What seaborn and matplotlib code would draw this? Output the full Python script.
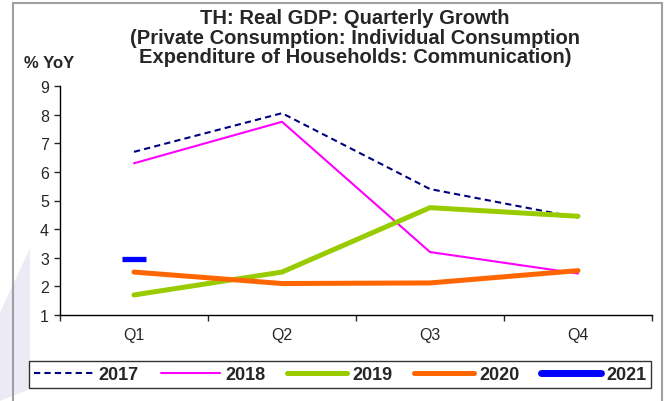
import matplotlib
matplotlib.use('Agg')
import matplotlib.pyplot as plt
import numpy as np
import pandas as pd
import seaborn as sns
from matplotlib.patches import Rectangle, Polygon
from matplotlib.lines import Line2D

quarters = ['Q1', 'Q2', 'Q3', 'Q4']
growth_2017 = [6.7, 8.05, 5.4, 4.4]
growth_2018 = [6.3, 7.75, 3.2, 2.45]
growth_2019 = [1.7, 2.5, 4.75, 4.45]
growth_2020 = [2.5, 2.1, 2.12, 2.55]
growth_2021 = [2.95]

sns.set_style('white')
plt.rcParams['font.family'] = ['Liberation Sans', 'DejaVu Sans']

fig = plt.figure(figsize=(6.65, 4.02), dpi=100)
ax = fig.add_axes([60 / 665, 1 - 316 / 402, 592 / 665, 229 / 402])

# faint watermark on the left and the outer frame
fig.patches.append(Polygon([[0, 0.22], [30 / 665, 0.38], [30 / 665, 0.03], [0, 0.0]],
                           closed=True, transform=fig.transFigure,
                           facecolor='#ecebf5', edgecolor='none', zorder=0))
fig.patches.append(Rectangle((13 / 665, -0.02), 649 / 665, 1.01, transform=fig.transFigure,
                             fill=False, edgecolor='#a0a0a0', linewidth=1.5, zorder=1))

series = [
    ('2017', growth_2017, '#000080', 1.5, (0, (3, 2))),
    ('2018', growth_2018, '#ff00ff', 1.5, '-'),
    ('2019', growth_2019, '#99cc00', 3.6, '-'),
    ('2020', growth_2020, '#ff6600', 3.6, '-'),
]
pos = np.arange(len(quarters))
for name, vals, color, lw, ls in series:
    df = pd.DataFrame({'x': pos[:len(vals)], 'y': vals})
    sns.lineplot(data=df, x='x', y='y', ax=ax, color=color, linewidth=lw,
                 linestyle=ls, label=name, legend=False)

# 2021 has only one quarter: drawn as a short bar
df21 = pd.DataFrame({'x': pos[:len(growth_2021)], 'y': growth_2021})
ax.plot(df21['x'], df21['y'], linestyle='none', marker='_', markersize=17.5,
        markeredgewidth=3.8, color='#0000ff', label='2021')

ax.set_xlim(-0.5, 3.5)
ax.set_ylim(1, 9)
ax.set_yticks(range(1, 10))
ax.set_xticks(np.arange(-0.5, 3.6, 1))
ax.set_xticklabels([])
ax.set_xticks(pos, minor=True)
ax.set_xticklabels(quarters, minor=True)
ax.tick_params(axis='x', which='minor', length=0, pad=9, labelsize=11.5)
ax.tick_params(axis='x', which='major', length=4, direction='out', bottom=True, width=1)
ax.tick_params(axis='y', length=4, direction='out', left=True, labelsize=11.5, width=1, pad=4)
ax.set_xlabel('')
ax.set_ylabel('')
for side in ['top', 'right']:
    ax.spines[side].set_visible(False)
for side in ['left', 'bottom']:
    ax.spines[side].set_color('black')
    ax.spines[side].set_linewidth(1)

fig.text(355 / 665, 1 - 38 / 402,
         'TH: Real GDP: Quarterly Growth\n(Private Consumption: Individual Consumption\nExpenditure of Households: Communication)',
         ha='center', va='center', fontsize=14.5, fontweight='bold', linespacing=1.06)
fig.text(24 / 665, 1 - 63 / 402, '% YoY', ha='left', va='center', fontsize=12, fontweight='bold')

handles, labels = ax.get_legend_handles_labels()
handles[-1] = Line2D([], [], color='#0000ff', linewidth=5)
leg = fig.legend(handles, labels, loc='center', bbox_to_anchor=(340 / 665, 1 - 375.5 / 402),
                 ncol=5, frameon=True, fancybox=False, edgecolor='black',
                 handlelength=3.3, columnspacing=1.2, handletextpad=0.3,
                 prop={'weight': 'bold', 'size': 13}, borderpad=0.25, borderaxespad=0)
leg.get_frame().set_linewidth(1)

fig.savefig('out.png', dpi=100, facecolor='white')
